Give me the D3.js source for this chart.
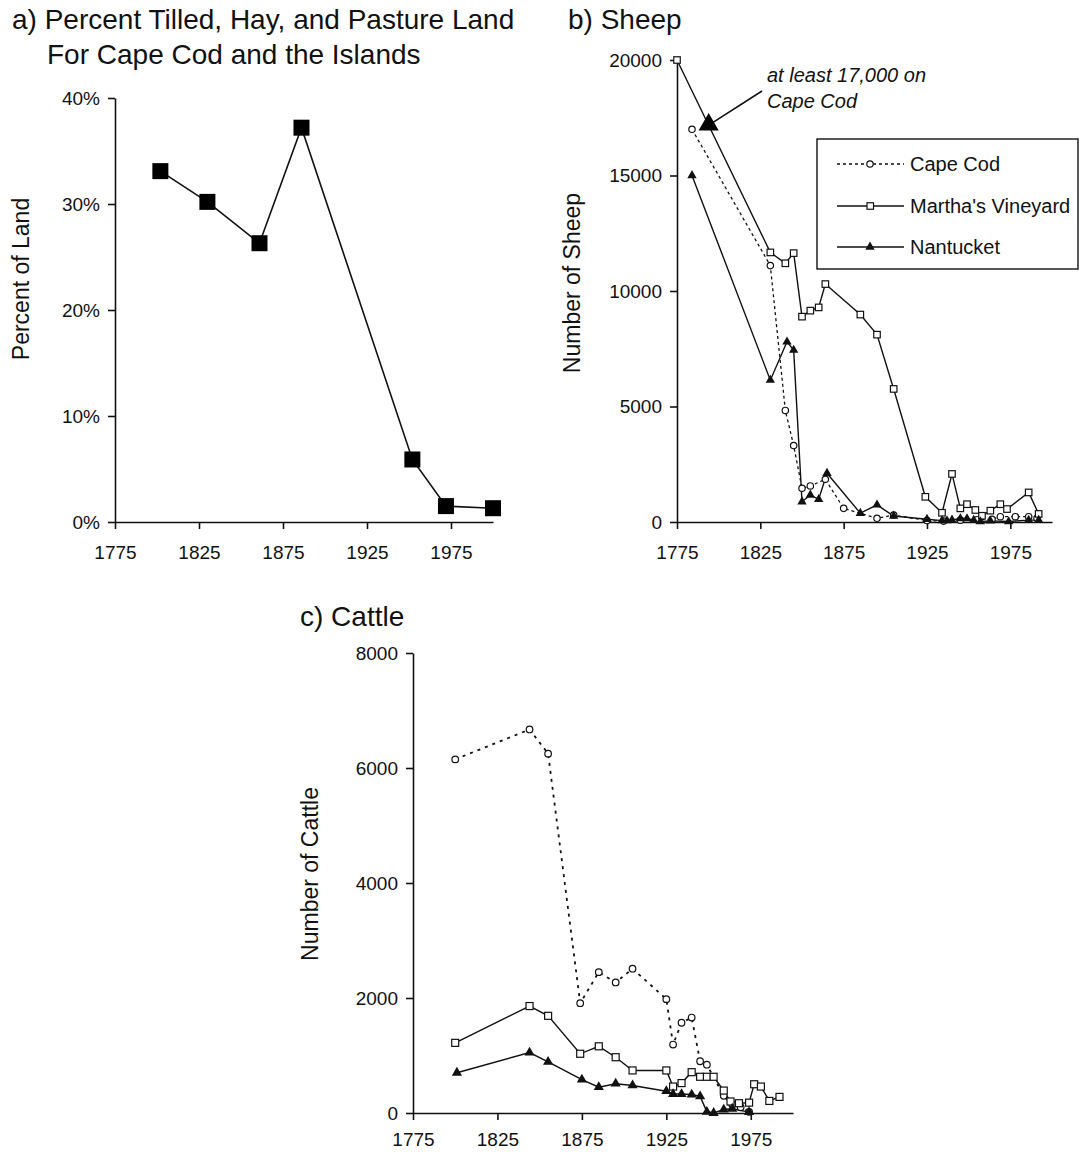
<!DOCTYPE html>
<html>
<head>
<meta charset="utf-8">
<script src="https://cdn.jsdelivr.net/npm/d3@7"></script>
<style>
  body { margin: 0; background: #fff; }
  svg { display: block; font-family: "Liberation Sans", Arial, sans-serif; }
</style>
</head>
<body>
<script>
// ---- data ----
const yearTicks = [1775, 1825, 1875, 1925, 1975];

// a) percent tilled, hay and pasture land
const landYears = [1802, 1830, 1861, 1886, 1952, 1972, 2000];
const landPct = [33.1, 30.2, 26.3, 37.2, 5.9, 1.5, 1.3];
const landTicks = [0, 10, 20, 30, 40];

// b) sheep
const capeSheepYears = [1784, 1831, 1840, 1845, 1850, 1855, 1864, 1875, 1895, 1905, 1925, 1935, 1945, 1955, 1964, 1969, 1978, 1986, 1991];
const capeSheepValues = [17000, 11100, 4830, 3310, 1460, 1560, 1850, 590, 160, 300, 60, 40, 80, 100, 120, 230, 230, 230, 160];
const mvSheepYears = [1775, 1831, 1840, 1845, 1850, 1855, 1860, 1864, 1885, 1895, 1905, 1924, 1934, 1940, 1945, 1949, 1954, 1958, 1963, 1969, 1973, 1986, 1992];
const mvSheepValues = [20000, 11670, 11200, 11640, 8890, 9150, 9290, 10300, 8980, 8110, 5760, 1090, 400, 2080, 590, 770, 520, 270, 490, 770, 560, 1280, 350];
const nanSheepYears = [1784, 1831, 1841, 1845, 1850, 1855, 1860, 1865, 1885, 1895, 1905, 1925, 1934, 1937, 1940, 1945, 1949, 1953, 1957, 1963, 1974, 1986, 1992];
const nanSheepValues = [15000, 6140, 7800, 7440, 880, 1170, 980, 2110, 380, 740, 260, 120, 60, 60, 90, 150, 150, 80, 20, 50, 20, 80, 80];
const sheepTicks = [0, 5000, 10000, 15000, 20000];
const sheepNoteYear = 1794;
const sheepNoteValue = 17200;

// c) cattle
const capeCattleYears = [1800, 1844, 1855, 1874, 1885, 1895, 1905, 1925, 1929, 1934, 1940, 1945, 1949, 1959, 1964, 1969, 1974];
const capeCattleValues = [6150, 6670, 6250, 1910, 2450, 2270, 2510, 1980, 1190, 1570, 1660, 900, 840, 300, 150, 100, 20];
const mvCattleYears = [1800, 1844, 1855, 1874, 1885, 1895, 1905, 1925, 1929, 1934, 1940, 1945, 1949, 1953, 1959, 1963, 1968, 1974, 1977, 1981, 1986, 1992];
const mvCattleValues = [1220, 1860, 1690, 1030, 1160, 970, 740, 740, 460, 520, 710, 630, 630, 630, 390, 200, 170, 180, 500, 460, 210, 280];
const nanCattleYears = [1801, 1844, 1855, 1875, 1885, 1895, 1905, 1925, 1929, 1934, 1940, 1945, 1949, 1953, 1959, 1964, 1974];
const nanCattleValues = [700, 1050, 890, 580, 450, 510, 480, 380, 330, 330, 320, 290, 20, 0, 60, 75, 15];
const cattleTicks = [0, 2000, 4000, 6000, 8000];

const width = 1079, height = 1152;
const fontTick = 19, fontAxis = 23, fontTitle = 28;

const svg = d3.select("body").append("svg")
    .attr("width", width)
    .attr("height", height);

svg.append("rect").attr("width", width).attr("height", height).attr("fill", "#fff");

function zip(xs, ys) {
    return xs.map((x, i) => ({ x: x, y: ys[i] }));
}

// sets up scales + axes for one panel
function makePanel(cfg) {
    const g = svg.append("g");
    const x = d3.scaleLinear().domain([1775, 2000]).range([cfg.left, cfg.right]);
    const y = d3.scaleLinear().domain([0, cfg.yMax]).range([cfg.bottom, cfg.top]);

    const xAxis = g.append("g")
        .attr("transform", `translate(0,${cfg.bottom})`)
        .call(d3.axisBottom(x).tickValues(yearTicks).tickFormat(d3.format("d"))
            .tickSize(7).tickSizeOuter(0).tickPadding(cfg.xPad || 17));
    const yAxis = g.append("g")
        .attr("transform", `translate(${cfg.left},0)`)
        .call(d3.axisLeft(y).tickValues(cfg.yTicks).tickFormat(cfg.yFormat)
            .tickSize(7).tickSizeOuter(0).tickPadding(8));

    [xAxis, yAxis].forEach(ax => {
        ax.selectAll("path, line").attr("stroke", "#111").attr("stroke-width", 1.6);
        ax.selectAll("text").attr("fill", "#111").style("font-size", fontTick + "px")
            .style("font-family", '"Liberation Sans", Arial, sans-serif');
    });

    g.append("text")
        .attr("transform", `translate(${cfg.titleX},${cfg.titleY}) rotate(-90)`)
        .attr("text-anchor", "middle")
        .attr("fill", "#111")
        .style("font-size", fontAxis + "px")
        .text(cfg.yTitle);

    return { g, x, y };
}

function drawLine(p, pts, opts) {
    const line = d3.line().x(d => p.x(d.x)).y(d => p.y(d.y));
    p.g.append("path")
        .datum(pts)
        .attr("d", line)
        .attr("fill", "none")
        .attr("stroke", "#111")
        .attr("stroke-width", opts.width || 1.4)
        .attr("stroke-dasharray", opts.dash || null);
}

function drawMarkers(p, pts, kind, size) {
    const sel = p.g.append("g").selectAll("path").data(pts).enter();
    if (kind === "circle") {
        sel.append("circle")
            .attr("cx", d => p.x(d.x)).attr("cy", d => p.y(d.y))
            .attr("r", size)
            .attr("fill", "#fff").attr("stroke", "#111").attr("stroke-width", 1.2);
    } else if (kind === "square") {
        sel.append("rect")
            .attr("x", d => p.x(d.x) - size / 2).attr("y", d => p.y(d.y) - size / 2)
            .attr("width", size).attr("height", size)
            .attr("fill", "#fff").attr("stroke", "#111").attr("stroke-width", 1.2);
    } else if (kind === "bigsquare") {
        sel.append("rect")
            .attr("x", d => p.x(d.x) - size / 2).attr("y", d => p.y(d.y) - size / 2)
            .attr("width", size).attr("height", size)
            .attr("fill", "#000");
    } else if (kind === "triangle") {
        sel.append("path")
            .attr("d", d3.symbol(d3.symbolTriangle, size))
            .attr("transform", d => `translate(${p.x(d.x)},${p.y(d.y)})`)
            .attr("fill", "#111");
    }
}

function panelTitle(x, y, txt) {
    svg.append("text").attr("x", x).attr("y", y).attr("fill", "#111")
        .style("font-size", fontTitle + "px").text(txt);
}

// ---------- a) ----------
panelTitle(12, 29, "a) Percent Tilled, Hay, and Pasture Land");
panelTitle(47, 64, "For Cape Cod and the Islands");

const pa = makePanel({
    left: 115, right: 493, bottom: 522, top: 98, yMax: 40, yTicks: landTicks,
    yFormat: d => d + "%", yTitle: "Percent of Land", titleX: 29, titleY: 279
});
const landPts = zip(landYears, landPct);
drawLine(pa, landPts, { width: 1.6 });
drawMarkers(pa, landPts, "bigsquare", 16);

// ---------- b) ----------
panelTitle(568, 29, "b) Sheep");

const pb = makePanel({
    left: 677, right: 1052, bottom: 522, top: 60, yMax: 20000, yTicks: sheepTicks,
    yFormat: d3.format("d"), yTitle: "Number of Sheep", titleX: 580, titleY: 283
});
const capeSheep = zip(capeSheepYears, capeSheepValues);
const mvSheep = zip(mvSheepYears, mvSheepValues);
const nanSheep = zip(nanSheepYears, nanSheepValues);
drawLine(pb, capeSheep, { width: 1.3, dash: "3,3" });
drawLine(pb, mvSheep, { width: 1.4 });
drawLine(pb, nanSheep, { width: 1.4 });
drawMarkers(pb, capeSheep, "circle", 3.2);
drawMarkers(pb, mvSheep, "square", 6.5);
drawMarkers(pb, nanSheep, "triangle", 38);

// annotation
const noteX = pb.x(sheepNoteYear), noteY = pb.y(sheepNoteValue);
pb.g.append("line")
    .attr("x1", 762).attr("y1", 91)
    .attr("x2", noteX + 4).attr("y2", noteY - 2)
    .attr("stroke", "#111").attr("stroke-width", 1.6);
pb.g.append("path")
    .attr("d", d3.symbol(d3.symbolTriangle, 175))
    .attr("transform", `translate(${noteX},${noteY})`)
    .attr("fill", "#000");
const note = pb.g.append("text").attr("fill", "#111")
    .style("font-size", "20px").style("font-style", "italic");
note.append("tspan").attr("x", 767).attr("y", 82).text("at least 17,000 on");
note.append("tspan").attr("x", 767).attr("y", 108).text("Cape Cod");

// legend
const legend = pb.g.append("g");
legend.append("rect")
    .attr("x", 817).attr("y", 139).attr("width", 261).attr("height", 130)
    .attr("fill", "#fff").attr("stroke", "#111").attr("stroke-width", 1.4);
const legendItems = [
    { name: "Cape Cod", kind: "circle", dash: "3,3", y: 164 },
    { name: "Martha's Vineyard", kind: "square", dash: null, y: 206 },
    { name: "Nantucket", kind: "triangle", dash: null, y: 247 }
];
legendItems.forEach(it => {
    legend.append("line")
        .attr("x1", 837).attr("x2", 904).attr("y1", it.y).attr("y2", it.y)
        .attr("stroke", "#111").attr("stroke-width", 1.4)
        .attr("stroke-dasharray", it.dash);
    if (it.kind === "circle") {
        legend.append("circle").attr("cx", 870).attr("cy", it.y).attr("r", 3.2)
            .attr("fill", "#fff").attr("stroke", "#111").attr("stroke-width", 1.2);
    } else if (it.kind === "square") {
        legend.append("rect").attr("x", 867).attr("y", it.y - 3.25).attr("width", 6.5).attr("height", 6.5)
            .attr("fill", "#fff").attr("stroke", "#111").attr("stroke-width", 1.2);
    } else {
        legend.append("path").attr("d", d3.symbol(d3.symbolTriangle, 38))
            .attr("transform", `translate(870,${it.y})`).attr("fill", "#111");
    }
    legend.append("text").attr("x", 910).attr("y", it.y + 7)
        .attr("fill", "#111").style("font-size", "20px").text(it.name);
});

// ---------- c) ----------
panelTitle(300, 626, "c) Cattle");

const pc = makePanel({
    left: 413, right: 793, bottom: 1113, top: 653, yMax: 8000, yTicks: cattleTicks,
    yFormat: d3.format("d"), yTitle: "Number of Cattle", titleX: 318, titleY: 874, xPad: 13
});
const capeCattle = zip(capeCattleYears, capeCattleValues);
const mvCattle = zip(mvCattleYears, mvCattleValues);
const nanCattle = zip(nanCattleYears, nanCattleValues);
drawLine(pc, capeCattle, { width: 1.8, dash: "3,5" });
drawLine(pc, mvCattle, { width: 1.4 });
drawLine(pc, nanCattle, { width: 1.5 });
drawMarkers(pc, capeCattle, "circle", 3.3);
drawMarkers(pc, mvCattle, "square", 7);
drawMarkers(pc, nanCattle, "triangle", 45);
</script>
</body>
</html>
